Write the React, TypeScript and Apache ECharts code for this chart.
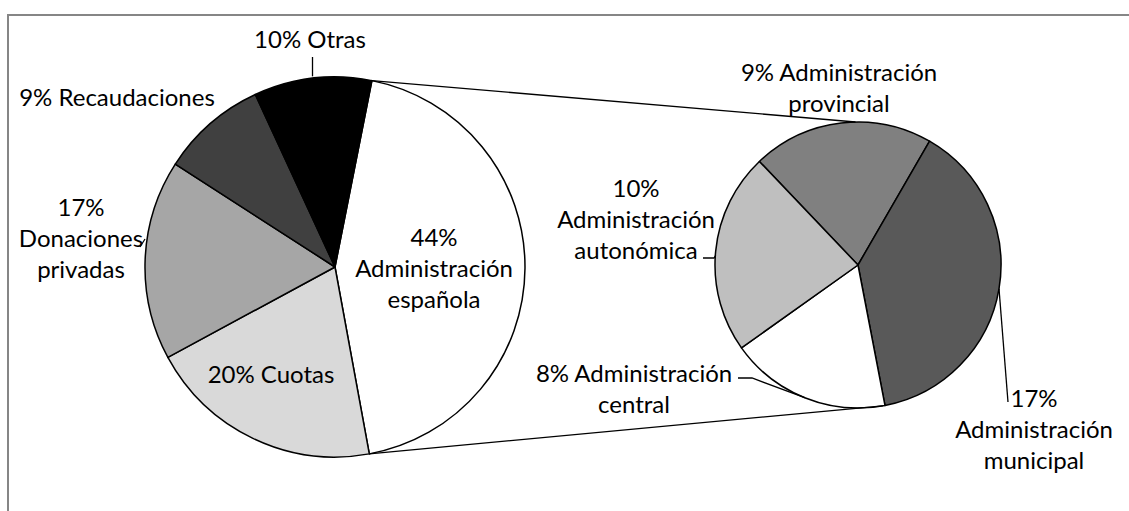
import React, { useEffect, useRef } from "react";
import * as echarts from "echarts";

// ---- data ----
const mainNames = ["Administración\nespañola", "Cuotas", "Donaciones\nprivadas", "Recaudaciones", "Otras"];
const mainValues = [44, 20, 17, 9, 10];
const mainSeps = ["\n", " ", "\n", " ", " "];
const mainColors = ["#ffffff", "#d9d9d9", "#a6a6a6", "#404040", "#000000"];

const subNames = ["Administración\nprovincial", "Administración\nmunicipal", "Administración\ncentral", "Administración\nautonómica"];
const subValues = [9, 17, 8, 10];
const subSeps = [" ", "\n", " ", "\n"];
const subColors = ["#808080", "#595959", "#ffffff", "#bfbfbf"];

// ---- layout ----
const MAIN = { cx: 335, cy: 267, r: 190 };
const SUB = { cx: 858, cy: 265, r: 143 };
const MAIN_START = 78.8;
const SUB_START = 133.6;

const mainLabelPos = [[434, 267], [271, 373], [81, 237], [117, 96], [310, 38]];
const subLabelPos = [[839, 87], [1034, 428], [634, 388], [636, 218]];

const FONT = "Lato, 'Open Sans', sans-serif";

function midAngles(values: number[], start: number) {
  const total = values.reduce((a, b) => a + b, 0);
  let a = start;
  return values.map((v) => {
    const span = (v / total) * 360;
    const m = a - span / 2;
    a -= span;
    return m;
  });
}
function pt(p: { cx: number; cy: number; r: number }, deg: number, rr?: number) {
  const rad = (deg * Math.PI) / 180;
  const r = rr ?? p.r;
  return [p.cx + r * Math.cos(rad), p.cy - r * Math.sin(rad)];
}

export default function App() {
  const ref = useRef<HTMLDivElement>(null);
  useEffect(() => {
    if (!ref.current) return;
    const chart = echarts.init(ref.current, undefined, { renderer: "svg" });

    const mainTotal = mainValues.reduce((a, b) => a + b, 0);
    const whiteEnd = MAIN_START - (mainValues[0] / mainTotal) * 360;
    const p1 = pt(MAIN, MAIN_START);
    const p2 = pt(MAIN, whiteEnd);
    const q1 = pt(SUB, 91);
    const q2 = pt(SUB, -80);

    const mMid = midAngles(mainValues, MAIN_START);
    const sMid = midAngles(subValues, SUB_START);

    const otrasA = pt(MAIN, mMid[4]);
    const muniA = pt(SUB, mMid.length ? sMid[1] : 0);
    const centA = pt(SUB, sMid[2]);
    const autoA = pt(SUB, sMid[3]);

    const lineStyle = { stroke: "#000", lineWidth: 1.3, fill: null };

    const labelCommon = {
      show: true,
      fontFamily: FONT,
      fontSize: 24,
      lineHeight: 31,
      color: "#000",
      align: "center",
    };

    chart.setOption({
      animation: false,
      backgroundColor: "#fff",
      graphic: [
        { type: "rect", shape: { x: 8, y: 15, width: 1200, height: 600 }, style: { stroke: "#868686", lineWidth: 2, fill: null }, z: 0 },
        { type: "line", shape: { x1: p1[0], y1: p1[1], x2: q1[0], y2: q1[1] }, style: lineStyle, z: 10 },
        { type: "line", shape: { x1: p2[0], y1: p2[1], x2: q2[0], y2: q2[1] }, style: lineStyle, z: 10 },
        { type: "polyline", shape: { points: [[otrasA[0], otrasA[1] - 2], [otrasA[0], 57]] }, style: lineStyle, z: 10 },
        { type: "polyline", shape: { points: [[140, 247], [145, 239]] }, style: lineStyle, z: 10 },
        { type: "polyline", shape: { points: [[703, 258], [714, 258], [autoA[0], autoA[1] + 4]] }, style: lineStyle, z: 10 },
        { type: "polyline", shape: { points: [[738, 378], [752, 378], [centA[0], centA[1]]] }, style: lineStyle, z: 10 },
        { type: "polyline", shape: { points: [[muniA[0], muniA[1]], [1008, 402]] }, style: lineStyle, z: 10 },
      ],
      series: [
        {
          type: "pie",
          center: [MAIN.cx, MAIN.cy],
          radius: MAIN.r,
          startAngle: MAIN_START,
          clockwise: true,
          avoidLabelOverlap: false,
          silent: true,
          itemStyle: { borderColor: "#000", borderWidth: 1.5 },
          label: {
            ...labelCommon,
            formatter: (p: any) => `${p.value}%${mainSeps[p.dataIndex]}${p.name}`,
          },
          labelLine: { show: false },
          labelLayout: (p: any) => ({
            x: mainLabelPos[p.dataIndex][0],
            y: mainLabelPos[p.dataIndex][1],
            align: "center",
            verticalAlign: "middle",
          }),
          data: mainValues.map((v, i) => ({ value: v, name: mainNames[i], itemStyle: { color: mainColors[i] } })),
        },
        {
          type: "pie",
          center: [SUB.cx, SUB.cy],
          radius: SUB.r,
          startAngle: SUB_START,
          clockwise: true,
          avoidLabelOverlap: false,
          silent: true,
          itemStyle: { borderColor: "#000", borderWidth: 1.5 },
          label: {
            ...labelCommon,
            formatter: (p: any) => `${p.value}%${subSeps[p.dataIndex]}${p.name}`,
          },
          labelLine: { show: false },
          labelLayout: (p: any) => ({
            x: subLabelPos[p.dataIndex][0],
            y: subLabelPos[p.dataIndex][1],
            align: "center",
            verticalAlign: "middle",
          }),
          data: subValues.map((v, i) => ({ value: v, name: subNames[i], itemStyle: { color: subColors[i] } })),
        },
      ],
    });
    return () => chart.dispose();
  }, []);
  return (
    <div
      ref={ref}
      style={{ position: "absolute", left: 0, top: 0, width: 1129, height: 511, background: "#fff" }}
    />
  );
}
